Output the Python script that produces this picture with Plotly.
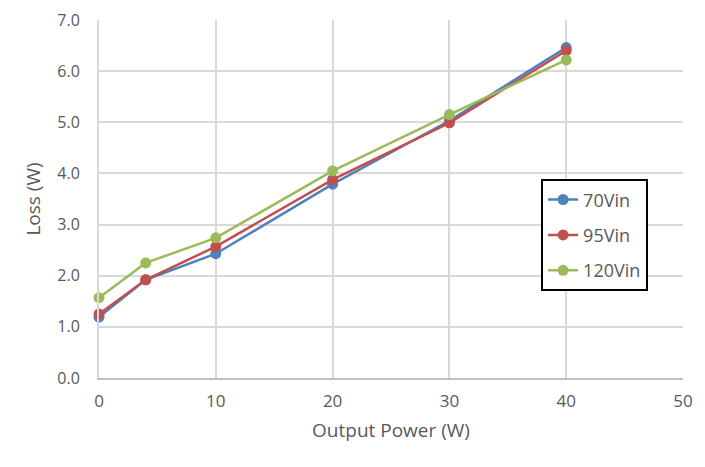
import plotly.graph_objects as go

output_power = [0, 4, 10, 20, 30, 40]
loss_70vin = [1.19, 1.92, 2.43, 3.79, 5.03, 6.46]
loss_95vin = [1.25, 1.92, 2.57, 3.88, 4.99, 6.40]
loss_120vin = [1.57, 2.25, 2.74, 4.05, 5.15, 6.22]
series_names = ["70Vin", "95Vin", "120Vin"]
colors = ["#4f81bd", "#c0504d", "#9bbb59"]

fig = go.Figure()
for i, (name, ys, c) in enumerate(zip(series_names, [loss_70vin, loss_95vin, loss_120vin], colors)):
    fig.add_trace(go.Scatter(
        x=output_power, y=ys, name=name, mode="lines+markers",
        line=dict(color=c, width=2.5),
        marker=dict(color=c, size=11),
        legendgroup=f"g{i}",
    ))

font_family = "Open Sans, Liberation Sans, sans-serif"
grid = "#d9d9d9"
fig.update_layout(
    width=705, height=467,
    margin=dict(l=91, r=30, t=12, b=97),
    paper_bgcolor="white", plot_bgcolor="white",
    font=dict(family=font_family, color="#595959", size=16),
    showlegend=True,
    legend=dict(
        x=0.757, y=0.555, xanchor="left", yanchor="top",
        bordercolor="black", borderwidth=2, bgcolor="white",
        font=dict(size=18, color="#595959"),
        tracegroupgap=9,
    ),
    xaxis=dict(
        range=[0, 50], tickvals=[0, 10, 20, 30, 40, 50], ticktext=["0", "10", "20", "30", "40", "50"],
        showgrid=True, gridcolor=grid, gridwidth=2,
        zeroline=False, showline=True, linecolor="#bfbfbf", linewidth=2,
        ticks="", ticklabelstandoff=7, automargin=False, ticklabeloverflow="allow",
        tickfont=dict(size=17),
        title=dict(text="Output Power (W)", font=dict(size=19, color="#595959"), standoff=12),
    ),
    yaxis=dict(
        range=[0, 7], tickvals=[0, 1, 2, 3, 4, 5, 6, 7],
        tickformat=".1f",
        showgrid=True, gridcolor=grid, gridwidth=2,
        zeroline=False, showline=True, linecolor="#d9d9d9", linewidth=2,
        ticks="", ticklabelstandoff=14, automargin=False, ticklabeloverflow="allow",
        tickfont=dict(size=16),
        title=dict(text="Loss (W)", font=dict(size=19, color="#595959"), standoff=12),
    ),
)
fig.update_traces(cliponaxis=False)
fig.write_html("out.html")
